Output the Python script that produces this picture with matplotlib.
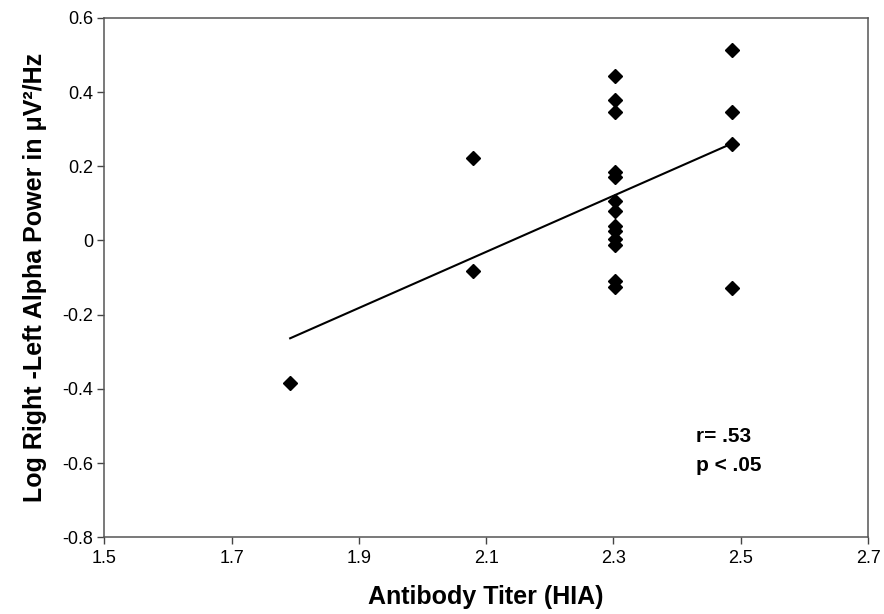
import matplotlib
matplotlib.use("Agg")
import matplotlib.pyplot as plt
import numpy as np

plt.rcParams['font.family'] = ['Liberation Sans', 'DejaVu Sans']

# Data
titer = [1.792, 2.079, 2.079,
         2.302, 2.302, 2.302, 2.302, 2.302, 2.302, 2.302, 2.302, 2.302, 2.302, 2.302, 2.302, 2.302,
         2.486, 2.486, 2.486, 2.486]
alpha = [-0.385, 0.222, -0.083,
         0.443, 0.378, 0.345, 0.185, 0.170, 0.105, 0.080, 0.040, 0.025, 0.005, -0.012, -0.110, -0.125,
         0.512, 0.345, 0.260, -0.127]

x_ticks = [1.5, 1.7, 1.9, 2.1, 2.3, 2.5, 2.7]
y_ticks = [-0.8, -0.6, -0.4, -0.2, 0, 0.2, 0.4, 0.6]
y_ticklabels = ['-0.8', '-0.6', '-0.4', '-0.2', '0', '0.2', '0.4', '0.6']
annotation = "r= .53\np < .05"

fig = plt.figure(figsize=(8.84, 6.14), dpi=100)
ax = fig.add_axes([0.118, 0.125, 0.864, 0.846])

x = np.array(titer)
y = np.array(alpha)
slope, intercept = np.polyfit(x, y, 1)
xl = np.array([x.min(), x.max()])
ax.plot(xl, slope * xl + intercept, color='black', lw=1.5, zorder=2)

ax.plot(x, y, linestyle='none', marker='D', markersize=7.5, color='black', zorder=3)

ax.set_xlim(1.5, 2.7)
ax.set_ylim(-0.8, 0.6)
ax.set_xticks(x_ticks)
ax.set_xticklabels([f"{t:.1f}" for t in x_ticks])
ax.set_yticks(y_ticks)
ax.set_yticklabels(y_ticklabels)
ax.tick_params(axis='both', direction='out', length=5, width=1, color='#444444',
               labelsize=13)
ax.tick_params(axis='x', pad=4)
ax.tick_params(axis='y', pad=3)
for s in ax.spines.values():
    s.set_color('#555555')
    s.set_linewidth(1.1)

ax.set_xlabel("Antibody Titer (HIA)", fontsize=18, fontweight='bold', labelpad=13)
ax.set_ylabel("Log Right -Left Alpha Power in μV²/Hz", fontsize=18, fontweight='bold', labelpad=11)

ax.text(2.43, -0.503, annotation, fontsize=15, fontweight='bold', va='top', ha='left',
        linespacing=1.65)

fig.savefig("out.png", dpi=100)
